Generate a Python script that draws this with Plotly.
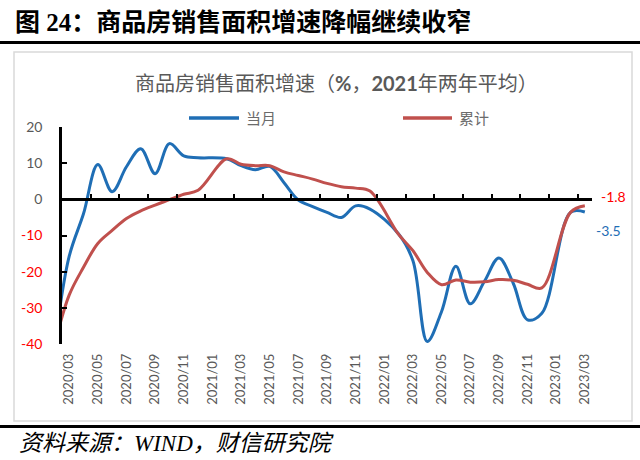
import plotly.graph_objects as go

# ---------------- data ----------------
months = ["2020/02", "2020/03", "2020/04", "2020/05", "2020/06", "2020/07", "2020/08",
          "2020/09", "2020/10", "2020/11", "2020/12", "2021/01", "2021/02", "2021/03",
          "2021/04", "2021/05", "2021/06", "2021/07", "2021/08", "2021/09", "2021/10",
          "2021/11", "2021/12", "2022/01", "2022/02", "2022/03", "2022/04", "2022/05",
          "2022/06", "2022/07", "2022/08", "2022/09", "2022/10", "2022/11", "2022/12",
          "2023/01", "2023/02", "2023/03"]

monthly = [-39.9, -15.8, -4.0, 9.6, 2.1, 9.0, 14.0, 7.1, 15.4, 12.0, 11.5,
           None, 11.2, 9.3, 8.2, 9.1, 4.6, -0.2, -2.0, -3.6, -5.0, -1.8, -2.7,
           None, -9.6, -17.0, -39.3, -31.0, -18.5, -28.9, -22.6, -16.2, -23.2,
           -33.3, -31.5, None, -3.6, -3.5]

cumulative = [-39.9, -26.5, -18.8, -12.2, -8.6, -5.3, -3.2, -1.6, -0.1, 1.4, 2.5,
              None, 11.2, 9.7, 9.3, 9.3, 7.6, 6.6, 5.6, 4.4, 3.5, 3.1, 2.3,
              None, -9.7, -14.2, -20.2, -23.6, -22.3, -22.9, -22.8, -22.2, -22.4,
              -23.5, -24.5, None, -3.6, -1.8]

series_names = ["当月", "累计"]
y_ticks = [20, 10, 0, -10, -20, -30, -40]

fig_title = "图 24：商品房销售面积增速降幅继续收窄"
chart_title = "商品房销售面积增速（<b>%</b>，<b>2021</b>年两年平均）"
source_text = "资料来源：WIND，财信研究院"

# ---------------- layout helpers ----------------
W, H = 640, 460
L, R, T, B = 62, 48, 127, 116
PW, PH = W - L - R, H - T - B


def fx(px):
    return (px - L) / PW


def fy(py):
    return (H - B - py) / PH


BLUE = "#1F6EB5"
RED = "#C0504D"
GRAY = "#595959"
FONT = "Lato, 'Noto Sans CJK SC', sans-serif"
SERIF = "'Liberation Serif', 'Noto Sans CJK SC', serif"

x_idx = list(range(len(months)))
label_idx = x_idx[1::2]
label_text = months[1::2]
tick_idx = [i - 0.5 for i in label_idx]
x_range = [0.5, len(months) - 0.5]

fig = go.Figure()
fig.add_trace(go.Scatter(
    x=x_idx, y=monthly, name=series_names[0], mode="lines", connectgaps=True,
    line=dict(color=BLUE, width=3, shape="spline", smoothing=1),
    xaxis="x", yaxis="y", hoverinfo="skip"))
fig.add_trace(go.Scatter(
    x=x_idx, y=cumulative, name=series_names[1], mode="lines", connectgaps=True,
    line=dict(color=RED, width=3, shape="spline", smoothing=1),
    xaxis="x2", yaxis="y", hoverinfo="skip"))

y_ticktext = [f"<span style='color:#FF0000'>{v}</span>" if v < 0 else str(v) for v in y_ticks]
y_min, y_max = min(y_ticks), max(y_ticks)

fig.update_layout(
    width=W, height=H,
    margin=dict(l=L, r=R, t=T, b=B, pad=0),
    paper_bgcolor="white", plot_bgcolor="white",
    showlegend=False,
    font=dict(family=FONT, color=GRAY, size=13),
    xaxis=dict(range=x_range, tickmode="array", tickvals=label_idx, ticktext=label_text,
               tickangle=-90, ticks="", showline=False, showgrid=False, zeroline=False,
               tickfont=dict(size=13, color=GRAY, family=FONT), ticklabelstandoff=6),
    xaxis2=dict(overlaying="x", anchor="free", position=(0 - y_min) / (y_max - y_min),
                side="bottom", range=x_range, tickmode="array", tickvals=tick_idx,
                ticks="inside", ticklen=5, tickwidth=2, tickcolor="black",
                showticklabels=False, showline=True, linecolor="black", linewidth=2.5,
                showgrid=False, zeroline=False),
    yaxis=dict(range=[y_min, y_max], tickmode="array", tickvals=y_ticks, ticktext=y_ticktext,
               ticks="inside", ticklen=5, tickwidth=2, tickcolor="black",
               showline=True, linecolor="black", linewidth=2.5, showgrid=False,
               zeroline=False, ticklabelstandoff=14,
               tickfont=dict(size=14, color=GRAY, family=FONT)),
)

shapes = [
    # heavy rule under the figure title
    dict(type="line", xref="paper", yref="paper", x0=fx(0), x1=fx(640), y0=fy(42.5), y1=fy(42.5),
         line=dict(color="black", width=3)),
    # chart frame
    dict(type="rect", xref="paper", yref="paper", x0=fx(14), x1=fx(632), y0=fy(421), y1=fy(52),
         line=dict(color="#D9D9D9", width=1.5), fillcolor="rgba(0,0,0,0)"),
    # heavy rule above the source line
    dict(type="line", xref="paper", yref="paper", x0=fx(0), x1=fx(640), y0=fy(426.5), y1=fy(426.5),
         line=dict(color="black", width=3)),
    # legend keys
    dict(type="line", xref="paper", yref="paper", x0=fx(189), x1=fx(239), y0=fy(118), y1=fy(118),
         line=dict(color=BLUE, width=3.5)),
    dict(type="line", xref="paper", yref="paper", x0=fx(403), x1=fx(452), y0=fy(118), y1=fy(118),
         line=dict(color=RED, width=3.5)),
]

annotations = [
    dict(text=f"<b>{fig_title}</b>", xref="paper", yref="paper", x=fx(13), y=fy(22),
         xanchor="left", yanchor="middle", showarrow=False,
         font=dict(family=SERIF, size=25, color="black")),
    dict(text=chart_title, xref="paper", yref="paper", x=fx(336), y=fy(83),
         xanchor="center", yanchor="middle", showarrow=False,
         font=dict(family=FONT, size=20, color=GRAY)),
    dict(text=series_names[0], xref="paper", yref="paper", x=fx(244), y=fy(118),
         xanchor="left", yanchor="middle", showarrow=False,
         font=dict(family=FONT, size=15, color="#6B6B6B")),
    dict(text=series_names[1], xref="paper", yref="paper", x=fx(457), y=fy(118),
         xanchor="left", yanchor="middle", showarrow=False,
         font=dict(family=FONT, size=15, color="#6B6B6B")),
    dict(text=f"<i>{source_text}</i>", xref="paper", yref="paper", x=fx(17), y=fy(443),
         xanchor="left", yanchor="middle", showarrow=False,
         font=dict(family=SERIF, size=23, color="black")),
    # end-point data labels
    dict(text=f"{cumulative[-1]:.1f}", xref="x", yref="y", x=x_idx[-1], y=cumulative[-1],
         xanchor="left", yanchor="middle", showarrow=False, xshift=14, yshift=9,
         font=dict(family=FONT, size=14, color="#FF0000")),
    dict(text=f"{monthly[-1]:.1f}", xref="x", yref="y", x=x_idx[-1], y=monthly[-1],
         xanchor="left", yanchor="middle", showarrow=False, xshift=9, yshift=-19,
         font=dict(family=FONT, size=14, color=BLUE)),
]

fig.update_layout(shapes=shapes, annotations=annotations)
fig.write_html("out.html", config={"displayModeBar": False},
               post_script="document.body.style.margin='0px';")
